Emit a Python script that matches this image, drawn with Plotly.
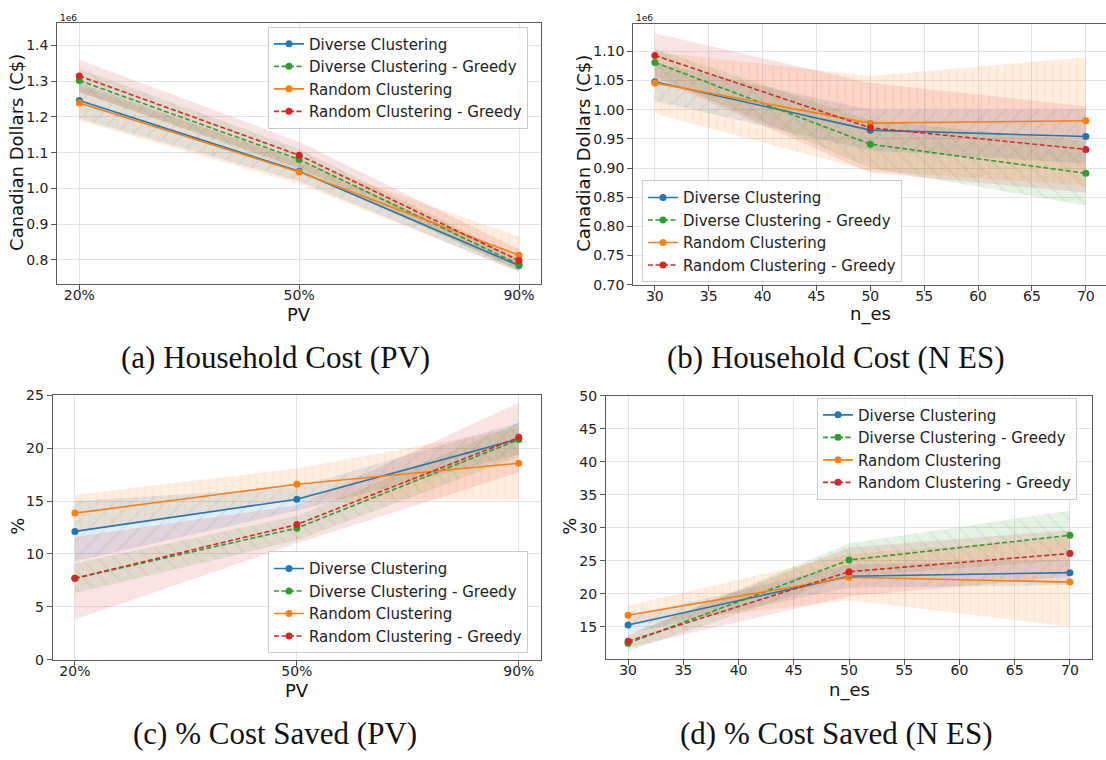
import plotly.graph_objects as go

W, H = 1106, 760

# ---------------- data ----------------
PV_LABELS = ['20%', '50%', '90%']
PV_POS = [0, 1, 2]
N_ES = [30, 50, 70]
NAMES = ['Diverse Clustering', 'Diverse Clustering - Greedy',
         'Random Clustering', 'Random Clustering - Greedy']

# (a) Household cost vs PV  (units of 1e6 C$)
a_div = [1.246, 1.048, 0.784]
a_div_lo = [1.196, 1.020, 0.765]
a_div_hi = [1.296, 1.076, 0.803]
a_divg = [1.302, 1.081, 0.787]
a_divg_lo = [1.270, 1.052, 0.770]
a_divg_hi = [1.335, 1.110, 0.805]
a_rnd = [1.239, 1.046, 0.813]
a_rnd_lo = [1.190, 1.012, 0.768]
a_rnd_hi = [1.288, 1.080, 0.865]
a_rndg = [1.315, 1.093, 0.798]
a_rndg_lo = [1.270, 1.058, 0.770]
a_rndg_hi = [1.360, 1.130, 0.830]

# (b) Household cost vs n_es  (units of 1e6 C$)
b_div = [1.048, 0.965, 0.954]
b_div_lo = [1.015, 0.930, 0.908]
b_div_hi = [1.081, 1.000, 1.000]
b_divg = [1.081, 0.941, 0.891]
b_divg_lo = [1.058, 0.900, 0.836]
b_divg_hi = [1.104, 0.982, 0.946]
b_rnd = [1.046, 0.977, 0.981]
b_rnd_lo = [0.993, 0.895, 0.870]
b_rnd_hi = [1.099, 1.058, 1.090]
b_rndg = [1.093, 0.969, 0.932]
b_rndg_lo = [1.055, 0.892, 0.858]
b_rndg_hi = [1.131, 1.046, 1.006]

# (c) % cost saved vs PV
c_div = [12.13, 15.17, 20.87]
c_div_lo = [9.3, 14.1, 19.4]
c_div_hi = [15.0, 16.3, 22.4]
c_divg = [7.69, 12.44, 20.81]
c_divg_lo = [6.3, 11.3, 19.2]
c_divg_hi = [9.1, 13.6, 22.4]
c_rnd = [13.86, 16.59, 18.58]
c_rnd_lo = [12.1, 15.1, 15.2]
c_rnd_hi = [15.6, 18.1, 21.9]
c_rndg = [7.69, 12.78, 21.03]
c_rndg_lo = [3.8, 11.0, 17.7]
c_rndg_hi = [11.6, 14.6, 24.3]

# (d) % cost saved vs n_es
d_div = [15.25, 22.64, 23.18]
d_div_lo = [14.0, 20.9, 21.3]
d_div_hi = [16.5, 24.4, 25.1]
d_divg = [12.49, 25.10, 28.85]
d_divg_lo = [11.3, 22.6, 25.1]
d_divg_hi = [13.7, 27.6, 32.6]
d_rnd = [16.73, 22.49, 21.75]
d_rnd_lo = [15.2, 19.0, 15.0]
d_rnd_hi = [18.2, 26.0, 28.5]
d_rndg = [12.78, 23.33, 26.09]
d_rndg_lo = [11.8, 19.6, 22.6]
d_rndg_hi = [13.8, 27.0, 29.6]

# ---------------- style ----------------
COLORS = ['#1f77b4', '#2ca02c', '#ff7f0e', '#d62728']
RGB = [(31, 119, 180), (44, 160, 44), (255, 127, 14), (214, 39, 40)]
DASH = ['solid', '5px,2.5px', 'solid', '5px,2.5px']
HATCH = ['/', '\\', '|', '']
FONT = 'DejaVu Sans'

panels = [
    dict(x=PV_POS, series=[(a_div, a_div_lo, a_div_hi), (a_divg, a_divg_lo, a_divg_hi),
                           (a_rnd, a_rnd_lo, a_rnd_hi), (a_rndg, a_rndg_lo, a_rndg_hi)]),
    dict(x=N_ES, series=[(b_div, b_div_lo, b_div_hi), (b_divg, b_divg_lo, b_divg_hi),
                         (b_rnd, b_rnd_lo, b_rnd_hi), (b_rndg, b_rndg_lo, b_rndg_hi)]),
    dict(x=PV_POS, series=[(c_div, c_div_lo, c_div_hi), (c_divg, c_divg_lo, c_divg_hi),
                           (c_rnd, c_rnd_lo, c_rnd_hi), (c_rndg, c_rndg_lo, c_rndg_hi)]),
    dict(x=N_ES, series=[(d_div, d_div_lo, d_div_hi), (d_divg, d_divg_lo, d_divg_hi),
                         (d_rnd, d_rnd_lo, d_rnd_hi), (d_rndg, d_rndg_lo, d_rndg_hi)]),
]

fig = go.Figure()

for p, panel in enumerate(panels):
    xa = 'x' if p == 0 else f'x{p+1}'
    ya = 'y' if p == 0 else f'y{p+1}'
    leg = 'legend' if p == 0 else f'legend{p+1}'
    xs = panel['x']
    # bands
    for i, (m, lo, hi) in enumerate(panel['series']):
        r, g, b = RGB[i]
        fp = None
        if HATCH[i]:
            fp = dict(shape=HATCH[i], size=8 if HATCH[i] == '|' else 12, solidity=0.1,
                      fgcolor=f'rgba({r},{g},{b},0.3)', fillmode='overlay')
        fig.add_trace(go.Scatter(
            x=list(xs) + list(xs)[::-1], y=list(hi) + list(lo)[::-1],
            fill='toself', fillcolor=f'rgba({r},{g},{b},0.13)',
            fillpattern=fp, line=dict(width=0), mode='lines',
            hoverinfo='skip', showlegend=False, xaxis=xa, yaxis=ya))
    # lines
    for i, (m, lo, hi) in enumerate(panel['series']):
        fig.add_trace(go.Scatter(
            x=xs, y=m, mode='lines+markers', name=NAMES[i],
            line=dict(color=COLORS[i], width=1.6, dash=DASH[i]),
            marker=dict(color=COLORS[i], size=7),
            xaxis=xa, yaxis=ya, legend=leg))

def fx(px):
    return px / W

def fy(py):
    return 1 - py / H

axis_common = dict(showline=True, linecolor='#5a5a5a', linewidth=1.2, mirror=True,
                   ticks='outside', ticklen=5, tickwidth=1, tickcolor='#5a5a5a',
                   tickfont=dict(family=FONT, size=14, color='#222'),
                   showgrid=True, gridcolor='#e4e4e4', gridwidth=1, zeroline=False)
xaxis_common = dict(axis_common, ticklabelstandoff=-7)

layout = dict(
    width=W, height=H, margin=dict(l=0, r=0, t=0, b=0),
    paper_bgcolor='white', plot_bgcolor='white',
    font=dict(family=FONT, color='#222'),
    xaxis=dict(xaxis_common, domain=[fx(57.3), fx(541)], range=[-0.1, 2.1],
               tickvals=PV_POS, ticktext=PV_LABELS, anchor='y'),
    yaxis=dict(axis_common, domain=[fy(281.7), fy(15)], range=[0.733, 1.464],
               dtick=0.1, tickformat='.1f', anchor='x'),
    xaxis2=dict(xaxis_common, domain=[fx(633.3), 1.0], range=[28, 71.87],
                dtick=5, anchor='y2'),
    yaxis2=dict(axis_common, domain=[fy(282.7), fy(16)], range=[0.70, 1.1475],
                dtick=0.05, tickformat='.2f', anchor='x2', mirror=False),
    xaxis3=dict(xaxis_common, domain=[fx(52.7), fx(541)], range=[-0.1, 2.1],
                tickvals=PV_POS, ticktext=PV_LABELS, anchor='y3'),
    yaxis3=dict(axis_common, domain=[fy(665.7), fy(395)], range=[0, 25.06],
                dtick=5, anchor='x3'),
    xaxis4=dict(xaxis_common, domain=[fx(606), fx(1092)], range=[28, 72],
                dtick=5, anchor='y4'),
    yaxis4=dict(axis_common, domain=[fy(665), fy(396)], range=[10.1, 50],
                dtick=5, anchor='x4'),
)

leg_common = dict(bgcolor='rgba(255,255,255,0.85)', bordercolor='#cccccc', borderwidth=1,
                  font=dict(family=FONT, size=15, color='#222'),
                  xanchor='left', yanchor='top', tracegroupgap=0)
layout['legend'] = dict(leg_common, x=fx(268), y=fy(19))
layout['legend2'] = dict(leg_common, x=fx(642), y=fy(176))
layout['legend3'] = dict(leg_common, x=fx(268), y=fy(555))
layout['legend4'] = dict(leg_common, x=fx(817), y=fy(398))
fig.update_layout(**layout)

def ann(text, x, y, size, family=FONT, angle=0, xanchor='center', yanchor='middle'):
    fig.add_annotation(text=text, x=fx(x), y=fy(y), xref='paper', yref='paper',
                       showarrow=False, textangle=angle, xanchor=xanchor, yanchor=yanchor,
                       font=dict(family=family, size=size, color='#111'))

# axis titles
ann('Canadian Dollars (C$)', 17, 148, 18, angle=-90)
ann('Canadian Dollars (C$)', 584, 149, 18, angle=-90)
ann('%', 18, 530, 18, angle=-90)
ann('%', 570, 530, 18, angle=-90)
ann('PV', 299, 313, 18)
ann('n_es', 870, 313, 18)
ann('PV', 297, 697, 18)
ann('n_es', 849, 697, 18)
# offset text
ann('1e6', 58, 10, 9, xanchor='left')
ann('1e6', 634, 10, 9, xanchor='left')
# captions
SERIF = 'Liberation Serif'
ann('(a) Household Cost (PV)', 275, 357, 31, family=SERIF)
ann('(b) Household Cost (N ES)', 836, 357, 31, family=SERIF)
ann('(c) % Cost Saved (PV)', 275, 741, 31, family=SERIF)
ann('(d) % Cost Saved (N ES)', 836, 741, 31, family=SERIF)

fig.write_html('out.html')
